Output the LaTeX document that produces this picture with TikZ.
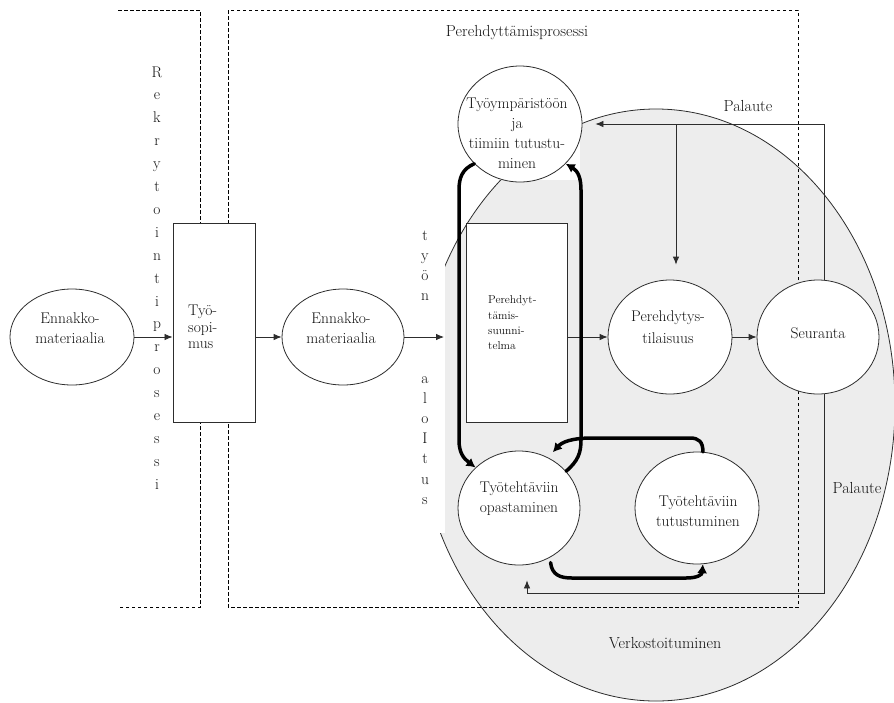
\documentclass[tikz,border=0pt]{standalone}
\usepackage{fontspec}
\usetikzlibrary{arrows.meta,shapes.geometric,calc}
\definecolor{bggray}{RGB}{237,237,237}
\definecolor{ink}{RGB}{20,20,20}
\definecolor{lin}{RGB}{45,45,45}
\begin{document}
\begin{tikzpicture}[x=1pt,y=-1pt,
  ell/.style={ellipse,draw=lin,fill=white,inner sep=0pt,line width=0.8pt},
  box/.style={rectangle,draw=lin,fill=white,inner sep=0pt,line width=0.9pt},
  txt/.style={text=ink,align=center,font=\fontsize{15.5}{20}\selectfont,inner sep=0pt},
  lbl/.style={text=ink,font=\fontsize{16}{20}\selectfont,inner sep=0pt},
  vlet/.style={text=ink,font=\fontsize{15.5}{20}\selectfont,inner sep=0pt,anchor=base},
  dsh/.style={draw=black,line width=0.8pt,dash pattern=on 3.5pt off 2.5pt},
  thn/.style={draw=lin,line width=0.8pt,-{Latex[length=8pt,width=6.5pt]}},
  thk/.style={draw=black,line width=3.5pt,line cap=round,-{Latex[length=9pt,width=10pt]}}]
\useasboundingbox (0,0) rectangle (894,702);

% networking area
\fill[bggray] (656,405) ellipse [x radius=239pt, y radius=296pt];
\draw[lin,line width=0.8pt] (656,405) ellipse [x radius=239pt, y radius=296pt];
\fill[white] (405,225) rectangle (445,533);
\fill[white] (455,60) rectangle (580,180);

% dashed process frames
\draw[dsh] (118,10) -- (200,10) -- (200,607) -- (118,607);
\draw[dsh] (228,10) rectangle (798,607);

% nodes
\node[ell,minimum width=124pt,minimum height=96pt] (ennA) at (72,337) {};
\node[box,minimum width=82pt,minimum height=199pt] (tyosop) at (214,322.5) {};
\node[ell,minimum width=122pt,minimum height=96pt] (ennB) at (343,337) {};
\node[box,minimum width=101pt,minimum height=199pt] (suunn) at (516.5,322.5) {};
\node[ell,minimum width=124pt,minimum height=116pt] (tyoymp) at (520,124) {};
\node[ell,minimum width=124pt,minimum height=114pt] (pertil) at (670,337) {};
\node[ell,minimum width=122pt,minimum height=114pt] (seur) at (818,337) {};
\node[ell,minimum width=122pt,minimum height=114pt] (opast) at (519,508) {};
\node[ell,minimum width=124pt,minimum height=112pt] (tutus) at (697,508) {};

% texts
\node[txt] (tennA) at (70,328) {Ennakko-\\materiaalia};
\node[txt] (tennB) at (341,328) {Ennakko-\\materiaalia};
\node[txt,align=left,anchor=west,font=\fontsize{15.5}{16.5}\selectfont] (ttyosop) at (188,327) {Työ-\\sopi-\\mus};
\node[txt,align=left,anchor=west,font=\fontsize{11.5}{15.3}\selectfont] (tsuunn) at (488,323) {Perehdyt-\\tämis-\\suunni-\\telma};
\node[txt] (ttyoymp) at (517,133) {Työympäristöön\\ja\\tiimiin tutustu-\\minen};
\node[txt,font=\fontsize{15.5}{22}\selectfont] (tpertil) at (668,327) {Perehdytys-\\tilaisuus};
\node[txt] (tseur) at (818,333) {Seuranta};
\node[txt] (topast) at (519,499) {Työtehtäviin\\opastaminen};
\node[txt] (ttutus) at (698,511) {Työtehtäviin\\tutustuminen};

\node[lbl] (lproc) at (517,33) {Perehdyttämisprosessi};
\node[lbl] (lpal1) at (748,106) {Palaute};
\node[lbl] (lpal2) at (857,488) {Palaute};
\node[lbl] (lverk) at (665,643) {Verkostoituminen};

% vertical words
\foreach \c [count=\i from 0] in {R,e,k,r,y,t,o,i,n,t,i,p,r,o,s,e,s,s,i}
  \node[vlet] (rk\i) at (157,{77+22.9*\i}) {\c};
\foreach \c [count=\i from 0] in {t,y,ö,n}
  \node[vlet] (ty\i) at (425,{240+20*\i}) {\c};
\foreach \c [count=\i from 0] in {a,l,o,I,t,u,s}
  \node[vlet] (al\i) at (425,{383+20.2*\i}) {\c};

% thin connectors
\draw[thn] (ennA.east) -- (ennA.east -| tyosop.west);
\draw[thn] (tyosop.east |- ennB.west) -- (ennB.west);
\coordinate (alk) at (444,337);
\draw[thn] (ennB.east) -- (alk);
\draw[thn] (suunn.east |- pertil.west) -- (pertil.west);
\draw[thn] (pertil.east) -- (seur.west);

% feedback loops
\coordinate (fbtop) at (824,124);
\coordinate (fbbr) at (676,124);
\coordinate (fbb) at (824,593);
\coordinate (fbl) at (527,593);
\draw[thn,shorten >=13pt] ($(seur.north)+(6,0)$) -- (fbtop) -- (tyoymp.east);
\draw[thn,shorten >=15pt] (fbbr) -- (fbbr |- pertil.north);
\draw[thn,shorten >=15pt] ($(seur.south)+(6,0)$) -- (fbb) -- (fbl) -- (fbl |- opast.south);

% thick arrows
\coordinate (l1) at (459,190);
\coordinate (l2) at (459,440);
\coordinate (r1) at (581,440);
\coordinate (r2) at (581,190);
\draw[thk] (tyoymp.221) .. controls (462,169) and (459,178) .. (l1) -- (l2)
  .. controls (459,452) and (463,458) .. (opast.137);
\draw[thk] (opast.38) .. controls (578,461) and (581,453) .. (r1) -- (r2)
  .. controls (581,178) and (578,171) .. (tyoymp.-41);
\draw[thk,shorten >=7pt] (tutus.84) .. controls (703,442) and (699,438) .. (690,438) -- (592,438)
  .. controls (572,438) and (562,442) .. (opast.60);
\draw[thk,shorten <=5pt] (opast.-58) .. controls (552,575) and (560,578) .. (572,578) -- (686,578)
  .. controls (697,578) and (702,575) .. (tutus.-84);
\end{tikzpicture}
\end{document}
